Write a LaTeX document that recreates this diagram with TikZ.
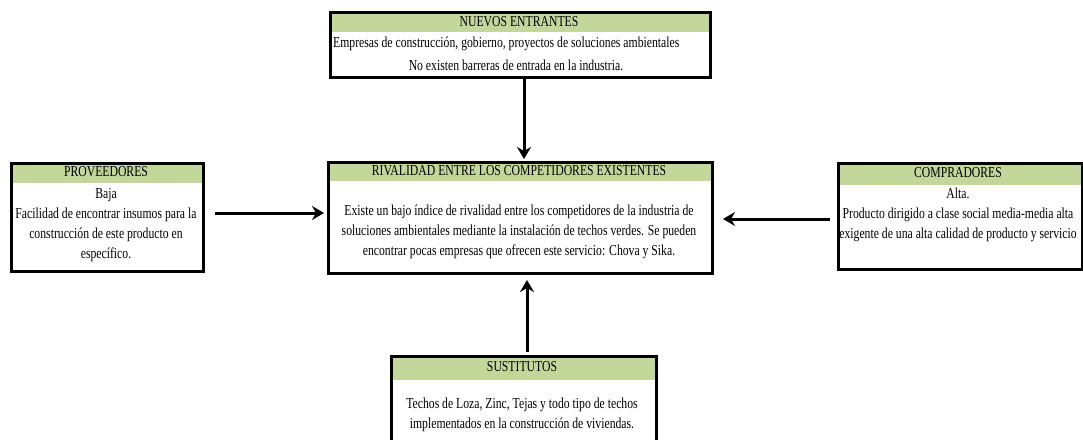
\documentclass[tikz,border=0pt]{standalone}
\usepackage{fontspec}
\setmainfont{Liberation Serif}[FakeStretch=0.77]
\usetikzlibrary{arrows.meta,calc}
\definecolor{hdrgreen}{RGB}{196,215,155}
\tikzset{
  box/.style={draw=black, line width=3pt, rectangle, inner sep=0pt, anchor=north west},
  hdr/.style={fill=hdrgreen, draw=none, rectangle, inner sep=0pt, anchor=north west},
  txt/.style={inner sep=0pt, align=center, font=\fontsize{15.2}{19.8}\selectfont},
  arr/.style={line width=3pt, -{Stealth[length=12pt,width=14pt,inset=4pt]}}
}
\begin{document}
\begin{tikzpicture}[x=1pt,y=-1pt]
\useasboundingbox (0,0) rectangle (1083,439);
\clip (0,0) rectangle (1083,439);
% NUEVOS ENTRANTES
\node[hdr, minimum width=380pt, minimum height=21pt] (nh) at (329,11) {};
\node[box, minimum width=380pt, minimum height=65pt] (n) at (329,11) {};
\node[txt] (nt) at (519,22) {NUEVOS ENTRANTES};
\node[txt, anchor=west] (n1) at (333,44) {Empresas de construcción, gobierno, proyectos de soluciones ambientales};
\node[txt] (n2) at (516,65) {No existen barreras de entrada en la industria.};
% RIVALIDAD
\node[hdr, minimum width=384pt, minimum height=20pt] (ch) at (327,161) {};
\node[box, minimum width=384pt, minimum height=111pt] (c) at (327,161) {};
\node[txt] (ct) at (519,171) {RIVALIDAD ENTRE LOS COMPETIDORES EXISTENTES};
\node[txt] (cb) at (519,232) {Existe un bajo índice de rivalidad entre los competidores de la industria de\\soluciones ambientales mediante la instalación de techos verdes. Se pueden\\encontrar pocas empresas que ofrecen este servicio: Chova y Sika.};
% PROVEEDORES
\node[hdr, minimum width=192pt, minimum height=21pt] (ph) at (10,162) {};
\node[box, minimum width=192pt, minimum height=108pt] (p) at (10,162) {};
\node[txt] (pt) at (106,172) {PROVEEDORES};
\node[txt] (pb) at (106,225) {Baja\\Facilidad de encontrar insumos para la\\construcción de este producto en\\específico.};
% COMPRADORES
\node[hdr, minimum width=244pt, minimum height=23pt] (kh) at (837,162) {};
\node[box, minimum width=244pt, minimum height=106pt] (k) at (837,162) {};
\node[txt] (kt) at (958,173) {COMPRADORES};
\node[txt] (kb) at (958,215) {Alta.\\Producto dirigido a clase social media-media alta\\exigente de una alta calidad de producto y servicio};
% SUSTITUTOS
\node[hdr, minimum width=265pt, minimum height=25pt] (sh) at (390,355) {};
\node[box, minimum width=265pt, minimum height=100pt] (s) at (390,355) {};
\node[txt] (st) at (522,367) {SUSTITUTOS};
\node[txt] (sb) at (522,415) {Techos de Loza, Zinc, Tejas y todo tipo de techos\\implementados en la construcción de viviendas.};
% arrows
\coordinate (ax) at (524,0);
\coordinate (bx) at (527,0);
\coordinate (ly) at (0,213);
\coordinate (ry) at (0,219);
\draw[arr, shorten >=2pt] (n.south -| ax) -- (c.north -| ax);
\draw[arr, shorten <=3pt, shorten >=5pt] (s.north -| bx) -- (c.south -| bx);
\draw[arr, shorten <=10pt, shorten >=3pt] (p.east |- ly) -- (c.west |- ly);
\draw[arr, shorten <=7pt, shorten >=9pt] (k.west |- ry) -- (c.east |- ry);
\end{tikzpicture}
\end{document}
